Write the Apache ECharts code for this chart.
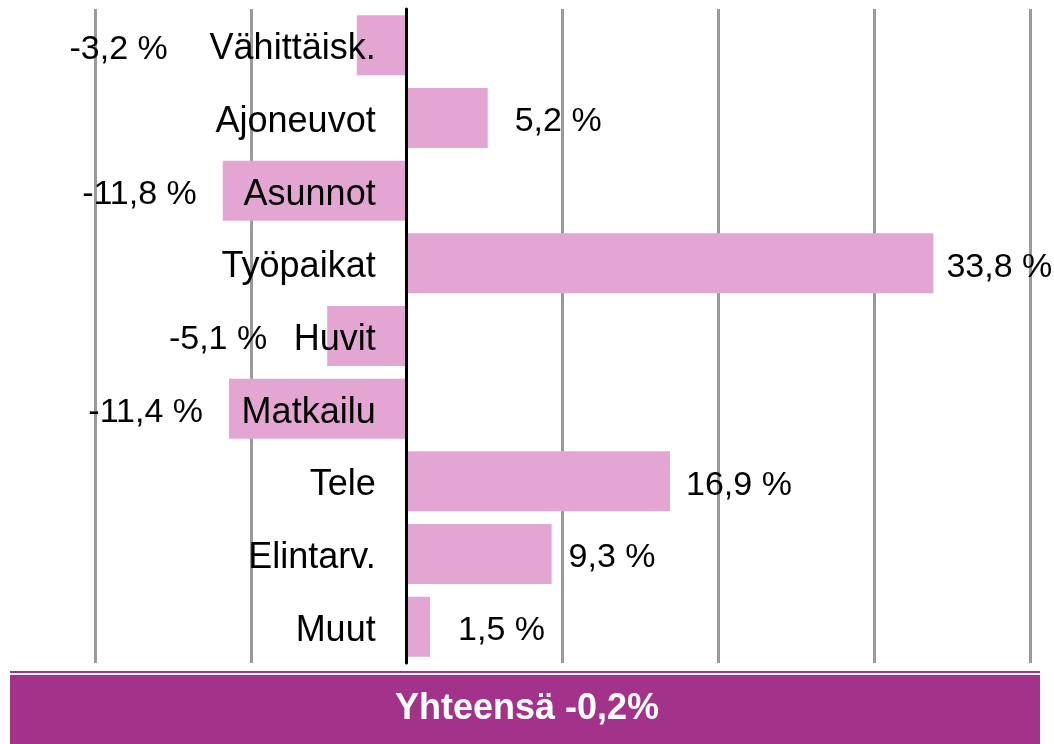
<!DOCTYPE html>
<html>
<head>
<meta charset="utf-8">
<script src="https://cdn.jsdelivr.net/npm/echarts@6/dist/echarts.min.js"></script>
<style>
  html, body { margin: 0; padding: 0; background: #fff; }
  #chart { width: 1054px; height: 744px; }
</style>
</head>
<body>
<div id="chart"></div>
<script>
// luokat ylhäältä alas
const categories = ['Vähittäisk.', 'Ajoneuvot', 'Asunnot', 'Työpaikat', 'Huvit', 'Matkailu', 'Tele', 'Elintarv.', 'Muut'];
const values = [-3.2, 5.2, -11.8, 33.8, -5.1, -11.4, 16.9, 9.3, 1.5];
const axisTicks = [-20, -10, 0, 10, 20, 30, 40];
const totalText = 'Yhteensä -0,2%';

const font = '"Liberation Sans", Arial, sans-serif';

// etäisyys pylvään päästä arvon tekstiin (negatiiviset väistävät luokan nimen)
const gaps = [189, 27, 26, 13, 60, 26, 16, 17, 28];

const gridLeft = 95, gridRight = 24;
const plotW = 1054 - gridLeft - gridRight;
const xMin = axisTicks[0], xMax = axisTicks[axisTicks.length - 1];
// y-akseli nollan kohdalle
const zeroOffset = -plotW * (0 - xMin) / (xMax - xMin);

// tekstit hieman alemmas
const catRich = {
  t: { padding: [8, 0, 0, 0], fontSize: 36, fontFamily: font, color: '#000' }
};
const valRich = {
  t: { padding: [8, 0, 0, 0], fontSize: 34, fontFamily: font, color: '#000' }
};

const chart = echarts.init(document.getElementById('chart'));

const option = {
  backgroundColor: '#fff',
  animation: false,
  grid: {
    left: gridLeft,
    right: gridRight,
    top: 9,
    bottom: 81,
    containLabel: false,
    outerBoundsMode: 'none'
  },
  xAxis: {
    type: 'value',
    min: xMin,
    max: xMax,
    interval: 10,
    axisLine: { show: false },
    axisTick: { show: false },
    axisLabel: { show: false },
    splitLine: {
      show: true,
      lineStyle: { color: '#9a9a9a', width: 3 }
    }
  },
  yAxis: {
    type: 'category',
    inverse: true,
    data: categories,
    offset: zeroOffset,
    axisLine: {
      show: true,
      onZero: false,
      lineStyle: { color: '#000', width: 3 }
    },
    axisTick: { show: false },
    axisLabel: {
      margin: 31,
      formatter: function (v) { return '{t|' + v + '}'; },
      rich: catRich
    },
    z: 5
  },
  series: [{
    type: 'bar',
    barCategoryGap: '17.5%',
    itemStyle: { color: '#E3A6D2' },
    data: values.map(function (v, i) {
      return {
        value: v,
        label: {
          show: true,
          position: v < 0 ? 'left' : 'right',
          distance: gaps[i],
          formatter: function (p) {
            return '{t|' + String(p.value).replace('.', ',') + ' %}';
          },
          rich: valRich
        }
      };
    }),
    z: 2
  }],
  graphic: [
    {
      type: 'rect',
      shape: { x: 10, y: 671, width: 1030, height: 2 },
      style: { fill: '#A3338A' }
    },
    {
      type: 'rect',
      shape: { x: 10, y: 675, width: 1030, height: 69 },
      style: { fill: '#A3338A' }
    },
    {
      type: 'text',
      left: 'center',
      top: 691,
      style: {
        text: totalText,
        fill: '#fff',
        fontSize: 36,
        fontWeight: 'bold',
        fontFamily: font
      }
    }
  ]
};

chart.setOption(option);
window.onresize = function () {
  chart.resize();
};
</script>
</body>
</html>
